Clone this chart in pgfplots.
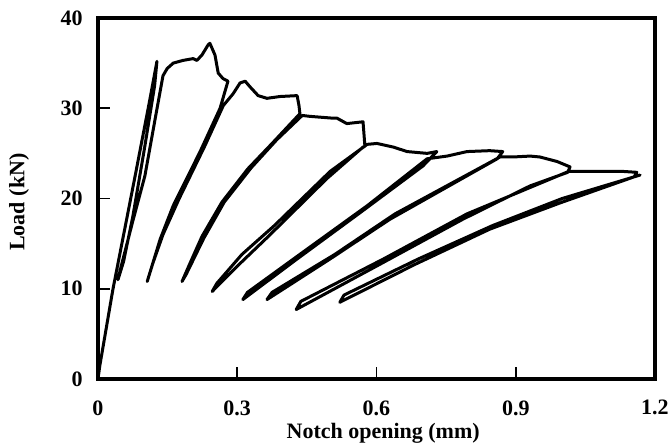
\documentclass[border=0pt]{standalone}
\usepackage{fontspec}
\setmainfont{Liberation Serif}
\usepackage{pgfplots}
\pgfplotsset{compat=1.18}
\begin{document}
\begin{tikzpicture}
\begin{axis}[
 scale only axis, width=278.5pt, height=180.5pt,
 xmin=0, xmax=1.2, ymin=0, ymax=40,
 xtick={0,0.3,0.6,0.9,1.2}, xticklabels={0,0.3,0.6,0.9,1.2},
 ytick={0,10,20,30,40}, yticklabels={0,10,20,30,40},
 tick pos=left, tick align=inside, major tick length=6pt,
 every tick/.style={black, line width=0.9pt},
 axis line style={line width=1.6pt},
 ticklabel style={font=\bfseries\fontsize{11}{13}\selectfont, inner sep=0pt},
 /pgf/number format/assume math mode=true,
 xticklabel style={anchor=north, yshift=-10.5pt},
 yticklabel style={anchor=east, xshift=-7.5pt},
 xlabel={Notch opening (mm)}, ylabel={Load (kN)},
 label style={font=\bfseries\fontsize{11}{13}\selectfont},
 xlabel style={at={(axis description cs:0.512,0)}, anchor=north, inner sep=0pt, yshift=-22pt},
 ylabel style={at={(axis description cs:0,0.49)}, anchor=center, inner sep=0pt, yshift=39.5pt},
]
\addplot[black, line width=1.5pt, line join=round, line cap=round] coordinates {
(0,0) (0.004,1.5) (0.032,9.9) (0.080,22.5) (0.110,30.5) (0.127,35.2)
(0.122,32.5) (0.100,25.5) (0.075,18.0) (0.055,13.0) (0.043,11.0)
(0.050,12.5) (0.075,17.5) (0.101,22.5) (0.122,28.5) (0.140,33.6)
(0.149,34.4) (0.162,35.0) (0.183,35.3) (0.205,35.5) (0.213,35.3) (0.224,35.9)
(0.237,37.0) (0.241,37.2) (0.252,35.9) (0.259,33.9) (0.269,33.3) (0.280,33.0)
(0.263,30.0) (0.220,25.2) (0.162,19.2) (0.134,15.5) (0.106,10.8)
(0.118,12.8) (0.140,16.0) (0.175,20.0) (0.230,25.8) (0.270,30.3) (0.291,31.6)
(0.306,32.8) (0.317,33.0) (0.327,32.4) (0.345,31.4) (0.364,31.1) (0.392,31.3)
(0.429,31.4) (0.433,30.3) (0.435,29.4)
(0.375,26.1) (0.323,23.3) (0.267,19.6) (0.224,15.8) (0.198,12.8) (0.181,10.8)
(0.190,11.6) (0.228,15.6) (0.272,19.6) (0.330,23.4) (0.385,26.5) (0.440,29.2)
(0.457,29.1) (0.506,28.9) (0.515,28.9) (0.536,28.3) (0.571,28.5) (0.575,25.8)
(0.571,25.7) (0.493,22.2) (0.371,16.0) (0.300,12.5) (0.246,9.7)
(0.256,10.6) (0.310,13.8) (0.380,17.0) (0.500,23.0) (0.580,26.0)
(0.601,26.1) (0.636,25.7) (0.666,25.2) (0.709,25.0) (0.730,25.2)
(0.700,23.6) (0.564,18.4) (0.429,13.3) (0.312,8.8)
(0.322,9.6) (0.440,14.0) (0.580,19.2) (0.709,24.4)
(0.752,24.7) (0.795,25.2) (0.844,25.3) (0.872,25.2)
(0.860,24.4) (0.629,17.7) (0.500,13.3) (0.364,8.8)
(0.375,9.6) (0.510,13.8) (0.640,18.3) (0.866,24.6)
(0.894,24.6) (0.931,24.7) (0.952,24.6) (0.989,24.1) (1.017,23.5)
(1.012,22.9) (0.931,21.4) (0.786,17.7) (0.607,12.7) (0.427,7.7)
(0.437,8.6) (0.615,13.3) (0.795,18.3) (1.014,23.0)
(1.032,23.0) (1.131,23.0) (1.161,22.9)
(1.155,22.4) (0.995,19.5) (0.844,16.6) (0.683,12.7) (0.521,8.5)
(0.530,9.3) (0.690,13.3) (0.850,17.0) (1.000,20.0) (1.168,22.6)
};
\end{axis}
\pgfresetboundingbox
\path ([xshift=-49pt,yshift=-33pt]current axis.south west) rectangle ([xshift=8pt,yshift=9pt]current axis.north east);
\end{tikzpicture}
\end{document}
